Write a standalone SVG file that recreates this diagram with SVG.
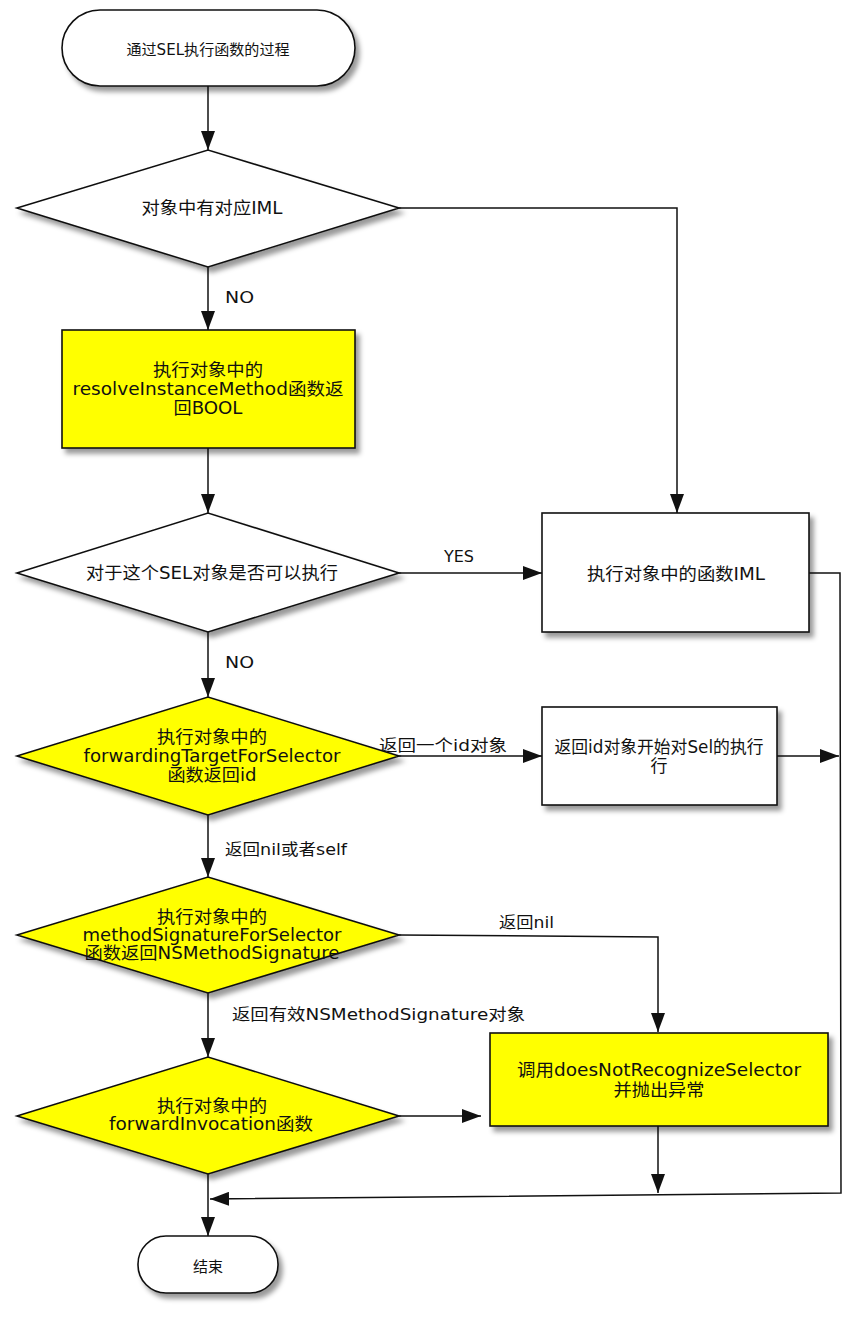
<svg xmlns="http://www.w3.org/2000/svg" width="865" height="1317" viewBox="0 0 865 1317">
<defs>
<filter id="sh" x="-10%" y="-10%" width="130%" height="140%">
<feGaussianBlur in="SourceAlpha" stdDeviation="2.5"/>
<feOffset dx="4" dy="5" result="b"/>
<feFlood flood-color="#000" flood-opacity="0.4"/>
<feComposite in2="b" operator="in"/>
<feMerge><feMergeNode/><feMergeNode in="SourceGraphic"/></feMerge>
</filter>
<marker id="ar" markerUnits="userSpaceOnUse" markerWidth="19" markerHeight="14" refX="19" refY="7" orient="auto">
<path d="M0,0 L19,7 L0,14 z" fill="#111"/>
</marker>
</defs>
<style>
.n{stroke:#111;stroke-width:1.6;filter:url(#sh)}
.w{fill:#fff}
.y{fill:#ffff00}
.t{font-family:"DejaVu Sans","Noto Sans CJK SC",sans-serif;font-size:17px;fill:#111;text-anchor:middle}
.s{font-size:15px}
.l{font-family:"DejaVu Sans","Noto Sans CJK SC",sans-serif;font-size:16px;fill:#111}
.c{fill:none;stroke:#111;stroke-width:1.5}
</style>
<rect width="865" height="1317" fill="#fff"/>
<g id="connectors">
<path class="c" d="M208,86 V150" marker-end="url(#ar)"/>
<path class="c" d="M208,267 V330" marker-end="url(#ar)"/>
<path class="c" d="M399,208 H677 V513" marker-end="url(#ar)"/>
<path class="c" d="M208,448 V513" marker-end="url(#ar)"/>
<path class="c" d="M399,573 H542" marker-end="url(#ar)"/>
<path class="c" d="M208,632 V697" marker-end="url(#ar)"/>
<path class="c" d="M399,756 H542" marker-end="url(#ar)"/>
<path class="c" d="M777,756 H839" marker-end="url(#ar)"/>
<path class="c" d="M809,573 H840 L841,1193 L210,1199" marker-end="url(#ar)"/>
<path class="c" d="M208,815 V877" marker-end="url(#ar)"/>
<path class="c" d="M399,935 L658,937 V1032" marker-end="url(#ar)"/>
<path class="c" d="M208,993 V1057" marker-end="url(#ar)"/>
<path class="c" d="M399,1116 H481" marker-end="url(#ar)"/>
<path class="c" d="M658,1126 V1193" marker-end="url(#ar)"/>
<path class="c" d="M208,1174 V1236" marker-end="url(#ar)"/>
<text class="l" x="225" y="303" textLength="29" lengthAdjust="spacingAndGlyphs">NO</text>
<text class="l" x="444" y="562" textLength="30" lengthAdjust="spacingAndGlyphs">YES</text>
<text class="l" x="225" y="668" textLength="29" lengthAdjust="spacingAndGlyphs">NO</text>
<text class="l" x="379" y="751" textLength="128" lengthAdjust="spacingAndGlyphs">返回一个id对象</text>
<text class="l" x="225" y="855" textLength="122" lengthAdjust="spacingAndGlyphs">返回nil或者self</text>
<text class="l" x="499" y="928" textLength="55" lengthAdjust="spacingAndGlyphs">返回nil</text>
<text class="l" x="232" y="1020" textLength="293" lengthAdjust="spacingAndGlyphs">返回有效NSMethodSignature对象</text>
</g>
<g id="start">
<rect class="n w" x="62" y="10" width="293" height="76" rx="38"/>
<text class="t s" x="208" y="55" textLength="163" lengthAdjust="spacingAndGlyphs">通过SEL执行函数的过程</text>
</g>
<g id="d1">
<polygon class="n w" points="17,208 208,150 399,208 208,267"/>
<text class="t" x="212" y="214" textLength="141" lengthAdjust="spacingAndGlyphs">对象中有对应IML</text>
</g>
<g id="b1">
<rect class="n y" x="62" y="330" width="293" height="118"/>
<text class="t" x="208" y="376" textLength="110" lengthAdjust="spacingAndGlyphs">执行对象中的</text>
<text class="t" x="208" y="395" textLength="271" lengthAdjust="spacingAndGlyphs">resolveInstanceMethod函数返</text>
<text class="t" x="208" y="414" textLength="69" lengthAdjust="spacingAndGlyphs">回BOOL</text>
</g>
<g id="d2">
<polygon class="n w" points="17,573 208,513 399,573 208,632"/>
<text class="t" x="212" y="579" textLength="252" lengthAdjust="spacingAndGlyphs">对于这个SEL对象是否可以执行</text>
</g>
<g id="bIML">
<rect class="n w" x="542" y="513" width="267" height="119"/>
<text class="t" x="676" y="580" textLength="178" lengthAdjust="spacingAndGlyphs">执行对象中的函数IML</text>
</g>
<g id="d3">
<polygon class="n y" points="17,756 208,697 399,756 208,815"/>
<text class="t" x="212" y="743" textLength="110" lengthAdjust="spacingAndGlyphs">执行对象中的</text>
<text class="t" x="212" y="762" textLength="257" lengthAdjust="spacingAndGlyphs">forwardingTargetForSelector</text>
<text class="t" x="212" y="781" textLength="89" lengthAdjust="spacingAndGlyphs">函数返回id</text>
</g>
<g id="bId">
<rect class="n w" x="542" y="707" width="235" height="98"/>
<text class="t" x="659" y="753" textLength="209" lengthAdjust="spacingAndGlyphs">返回id对象开始对Sel的执行</text>
<text class="t" x="659" y="772">行</text>
</g>
<g id="d4">
<polygon class="n y" points="17,935 208,877 399,935 208,993"/>
<text class="t" x="212" y="923" textLength="110" lengthAdjust="spacingAndGlyphs">执行对象中的</text>
<text class="t" x="212" y="941" textLength="259" lengthAdjust="spacingAndGlyphs">methodSignatureForSelector</text>
<text class="t" x="212" y="959" textLength="255" lengthAdjust="spacingAndGlyphs">函数返回NSMethodSignature</text>
</g>
<g id="d5">
<polygon class="n y" points="17,1116 208,1057 399,1116 208,1174"/>
<text class="t" x="212" y="1112" textLength="110" lengthAdjust="spacingAndGlyphs">执行对象中的</text>
<text class="t" x="211" y="1130" textLength="204" lengthAdjust="spacingAndGlyphs">forwardInvocation函数</text>
</g>
<g id="bErr">
<rect class="n y" x="490" y="1033" width="338" height="93"/>
<text class="t" x="659" y="1076" textLength="284" lengthAdjust="spacingAndGlyphs">调用doesNotRecognizeSelector</text>
<text class="t" x="659" y="1096" textLength="91" lengthAdjust="spacingAndGlyphs">并抛出异常</text>
</g>
<g id="end">
<rect class="n w" x="138" y="1236" width="140" height="57" rx="28"/>
<text class="t s" x="208" y="1272">结束</text>
</g>
</svg>
